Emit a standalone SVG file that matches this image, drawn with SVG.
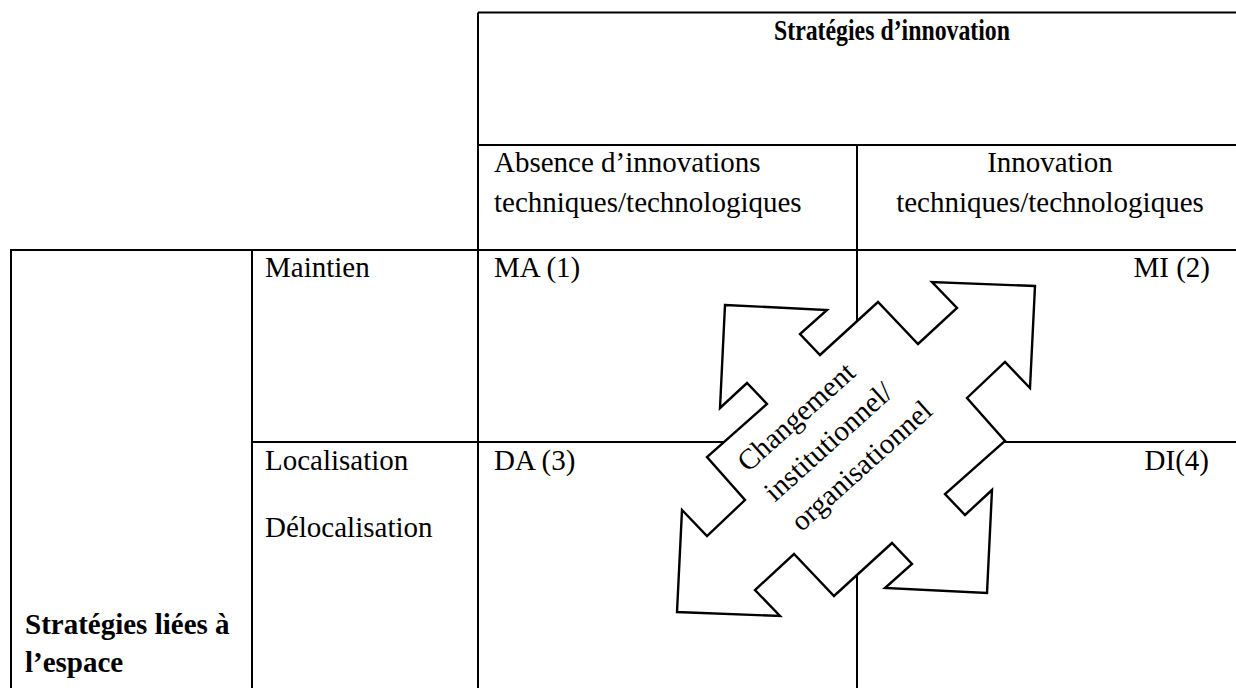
<svg xmlns="http://www.w3.org/2000/svg" width="1236" height="688" viewBox="0 0 1236 688">
<style>
text{font-family:"Liberation Serif","Times New Roman",serif;font-size:29px;fill:#000}
.b{font-weight:bold}
.ln{stroke:#000;stroke-width:2;fill:none}
.arrow{fill:#fff;stroke:#000;stroke-width:2.4;stroke-linejoin:miter}
</style>
<rect width="1236" height="688" fill="#fff"/>
<g id="connectors">
<path class="ln" d="M478,12.5H1236 M478,12.5V688 M478,145H1236 M857,145V688 M10,250H1236 M11,250V688 M252,250V688 M252,442H1236"/>
</g>
<g id="header">
<text class="b" x="892" y="40" text-anchor="middle" textLength="236" lengthAdjust="spacingAndGlyphs">Stratégies d’innovation</text>
</g>
<g id="col-absence">
<text x="494" y="172">Absence d’innovations</text>
<text x="494" y="212">techniques/technologiques</text>
</g>
<g id="col-innovation">
<text x="1050" y="172" text-anchor="middle">Innovation</text>
<text x="1050" y="212" text-anchor="middle">techniques/technologiques</text>
</g>
<g id="row-label">
<text class="b" x="25" y="634">Stratégies liées à</text>
<text class="b" x="25" y="672">l’espace</text>
</g>
<g id="row-maintien"><text x="265" y="277">Maintien</text></g>
<g id="row-localisation">
<text x="265" y="470">Localisation</text>
<text x="265" y="537">Délocalisation</text>
</g>
<g id="cell-ma"><text x="494" y="277">MA (1)</text></g>
<g id="cell-mi"><text x="1210" y="277" text-anchor="end">MI (2)</text></g>
<g id="cell-da"><text x="494" y="470">DA (3)</text></g>
<g id="cell-di"><text x="1209" y="470" text-anchor="end">DI(4)</text></g>
<g id="quad-arrow">
<polygon class="arrow" points="725,305 827,310 800,334 820,355 878,302 918,344 957,308 932,282 1035,286 1030,388 1005,362 967,398 1005,441 945,494 965,515 992,490 987,593 885,588 912,564 892,543 834,596 794,554 755,590 780,616 677,612 682,510 707,536 745,500 707,457 767,404 747,383 720,408"/>
<text transform="translate(748,473) rotate(-42)"><tspan x="0" y="0">Changement</tspan><tspan x="0" y="40">institutionnel/</tspan><tspan x="0" y="80">organisationnel</tspan></text>
</g>
</svg>
